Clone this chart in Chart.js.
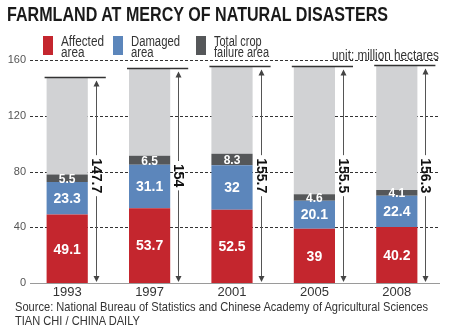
<!DOCTYPE html>
<html>
<head>
<meta charset="utf-8">
<script src="https://cdn.jsdelivr.net/npm/chart.js@4.4.1/dist/chart.umd.min.js"></script>
<style>
  html, body { margin: 0; padding: 0; background: #fff; }
  #wrap { position: relative; width: 450px; height: 328px; overflow: hidden; font-family: 'Liberation Sans', sans-serif; color: #333; }
  #chart { position: absolute; left: 0; top: 0; }
  .fit { transform-origin: 0 0; white-space: nowrap; }
  .title { position: absolute; left: 7px; top: 3px; font: bold 20px 'Liberation Sans', sans-serif; color: #1a1a1a; }
  .lg { position: absolute; top: 35px; font-size: 14px; line-height: 11px; }
  .lg .sw { position: absolute; left: 0; top: 1px; width: 10px; height: 19px; }
  .lg .tx { position: absolute; left: 18px; top: 1px; }
  .unit { position: absolute; left: 332px; top: 47px; font-size: 14px; }
  .src { position: absolute; left: 15px; top: 300px; font-size: 13px; line-height: 14px; }
</style>
</head>
<body>
<div id="wrap">
  <canvas id="chart" width="450" height="328"></canvas>
  <div class="title fit" data-w="381">FARMLAND AT MERCY OF NATURAL DISASTERS</div>
  <div class="lg" style="left:43px"><div class="sw" style="background:#c4262e"></div><div class="tx fit" data-w="43">Affected<br>area</div></div>
  <div class="lg" style="left:113px"><div class="sw" style="background:#5c86bb"></div><div class="tx fit" data-w="49">Damaged<br>area</div></div>
  <div class="lg" style="left:196px"><div class="sw" style="background:#555759"></div><div class="tx fit" data-w="55">Total crop<br>failure area</div></div>
  <div class="unit fit" data-w="107">unit: million hectares</div>
  <div class="src fit" data-w="413">Source: National Bureau of Statistics and Chinese Academy of Agricultural Sciences<br>TIAN CHI / CHINA DAILY</div>
</div>
<script>
// values (million hectares)
const years    = ['1993', '1997', '2001', '2005', '2008'];
const affected = [49.1, 53.7, 52.5, 39, 40.2];
const damaged  = [23.3, 31.1, 32, 20.1, 22.4];
const failure  = [5.5, 6.5, 8.3, 4.6, 4.1];
const totals   = [147.7, 154, 155.7, 155.5, 156.3];
const yTicks   = [0, 40, 80, 120, 160];

const RED = '#c4262e', BLUE = '#5c86bb', DARK = '#555759', LIGHT = '#d1d2d4';

// the print uses a condensed face; squeeze the text blocks to the same widths
document.querySelectorAll('.fit').forEach(el => {
  const w = el.getBoundingClientRect().width;
  el.style.transform = 'scaleX(' + (el.dataset.w / w) + ')';
});

// the light grey part fills each bar up to its total
const rest = totals.map((t, i) => +(t - affected[i] - damaged[i] - failure[i]).toFixed(1));

// dashed grid behind the bars
const gridPlugin = {
  id: 'dashGrid',
  beforeDatasetsDraw(chart) {
    const { ctx, scales: { y } } = chart;
    ctx.save();
    yTicks.forEach(v => {
      const py = Math.round(y.getPixelForValue(v)) + 0.5;
      ctx.beginPath();
      if (v === 0) {
        ctx.setLineDash([]);
        ctx.strokeStyle = '#9a9a9a';
      } else {
        ctx.setLineDash([3, 2]);
        ctx.strokeStyle = '#333';
      }
      ctx.lineWidth = 1;
      ctx.moveTo(30, py);
      ctx.lineTo(440, py);
      ctx.stroke();
    });
    ctx.restore();
  }
};

function arrowHead(ctx, x, y, dir) {
  ctx.beginPath();
  ctx.moveTo(x, y);
  ctx.lineTo(x - 3, y - 6 * dir);
  ctx.lineTo(x + 3, y - 6 * dir);
  ctx.closePath();
  ctx.fill();
}

// segment labels, total lines and the double arrows
const labelPlugin = {
  id: 'labels',
  afterDatasetsDraw(chart) {
    const { ctx, scales: { y } } = chart;
    const series = [affected, damaged, failure];
    ctx.save();
    ctx.fillStyle = '#fff';
    ctx.textAlign = 'center';
    ctx.textBaseline = 'middle';
    series.forEach((vals, d) => {
      const meta = chart.getDatasetMeta(d);
      meta.data.forEach((el, i) => {
        ctx.font = d === 2 ? 'bold 12px "Liberation Sans", sans-serif' : 'bold 14px "Liberation Sans", sans-serif';
        ctx.fillText(String(vals[i]), el.x, (el.y + el.base) / 2 + 1);
      });
    });

    const base = y.getPixelForValue(0);
    chart.getDatasetMeta(0).data.forEach((el, i) => {
      const left = el.x - el.width / 2;
      const right = el.x + el.width / 2;
      const top = Math.round(y.getPixelForValue(totals[i])) + 0.5;
      const ax = Math.round(right + 8) + 0.5;

      ctx.strokeStyle = '#333';
      ctx.lineWidth = 1.5;
      ctx.beginPath();
      ctx.moveTo(left - 2, top);
      ctx.lineTo(right + 18, top);
      ctx.stroke();

      const label = String(totals[i]);
      ctx.font = 'bold 14px "Liberation Sans", sans-serif';
      const tw = ctx.measureText(label).width;
      const cy = y.getPixelForValue(77);
      const gapTop = cy - tw / 2 - 3, gapBot = cy + tw / 2 + 3;

      ctx.strokeStyle = '#555';
      ctx.fillStyle = '#444';
      ctx.lineWidth = 1;
      ctx.beginPath();
      ctx.moveTo(ax, top + 4);
      ctx.lineTo(ax, gapTop);
      ctx.moveTo(ax, gapBot);
      ctx.lineTo(ax, base - 2);
      ctx.stroke();
      arrowHead(ctx, ax, top + 3, -1);
      arrowHead(ctx, ax, base - 1, 1);

      ctx.save();
      ctx.translate(ax, cy);
      ctx.rotate(Math.PI / 2);
      ctx.fillStyle = '#111';
      ctx.fillText(label, 0, 1);
      ctx.restore();
    });
    ctx.restore();
  }
};

new Chart(document.getElementById('chart'), {
  type: 'bar',
  data: {
    labels: years,
    datasets: [
      { label: 'Affected area', data: affected, backgroundColor: RED },
      { label: 'Damaged area', data: damaged, backgroundColor: BLUE },
      { label: 'Total crop failure area', data: failure, backgroundColor: DARK },
      { label: 'Rest', data: rest, backgroundColor: LIGHT }
    ]
  },
  options: {
    responsive: false,
    animation: false,
    devicePixelRatio: 1,
    layout: { padding: { top: 60, right: 12, bottom: 27, left: 0 } },
    datasets: { bar: { categoryPercentage: 1, barPercentage: 0.5, borderWidth: 0 } },
    plugins: { legend: { display: false }, tooltip: { enabled: false } },
    scales: {
      x: {
        stacked: true,
        grid: { display: false, drawTicks: false, tickLength: 0 },
        border: { display: false },
        ticks: { color: '#333', padding: 2, font: { family: 'Liberation Sans', size: 13 } },
        afterFit(s) { s.height = 18; }
      },
      y: {
        stacked: true,
        min: 0,
        max: 160,
        grid: { display: false, drawTicks: false, tickLength: 0 },
        border: { display: false },
        afterBuildTicks(s) { s.ticks = yTicks.map(v => ({ value: v })); },
        ticks: { color: '#555', padding: 0, font: { family: 'Liberation Sans', size: 11 } },
        afterFit(s) { s.width = 26; }
      }
    }
  },
  plugins: [gridPlugin, labelPlugin]
});
</script>
</body>
</html>
